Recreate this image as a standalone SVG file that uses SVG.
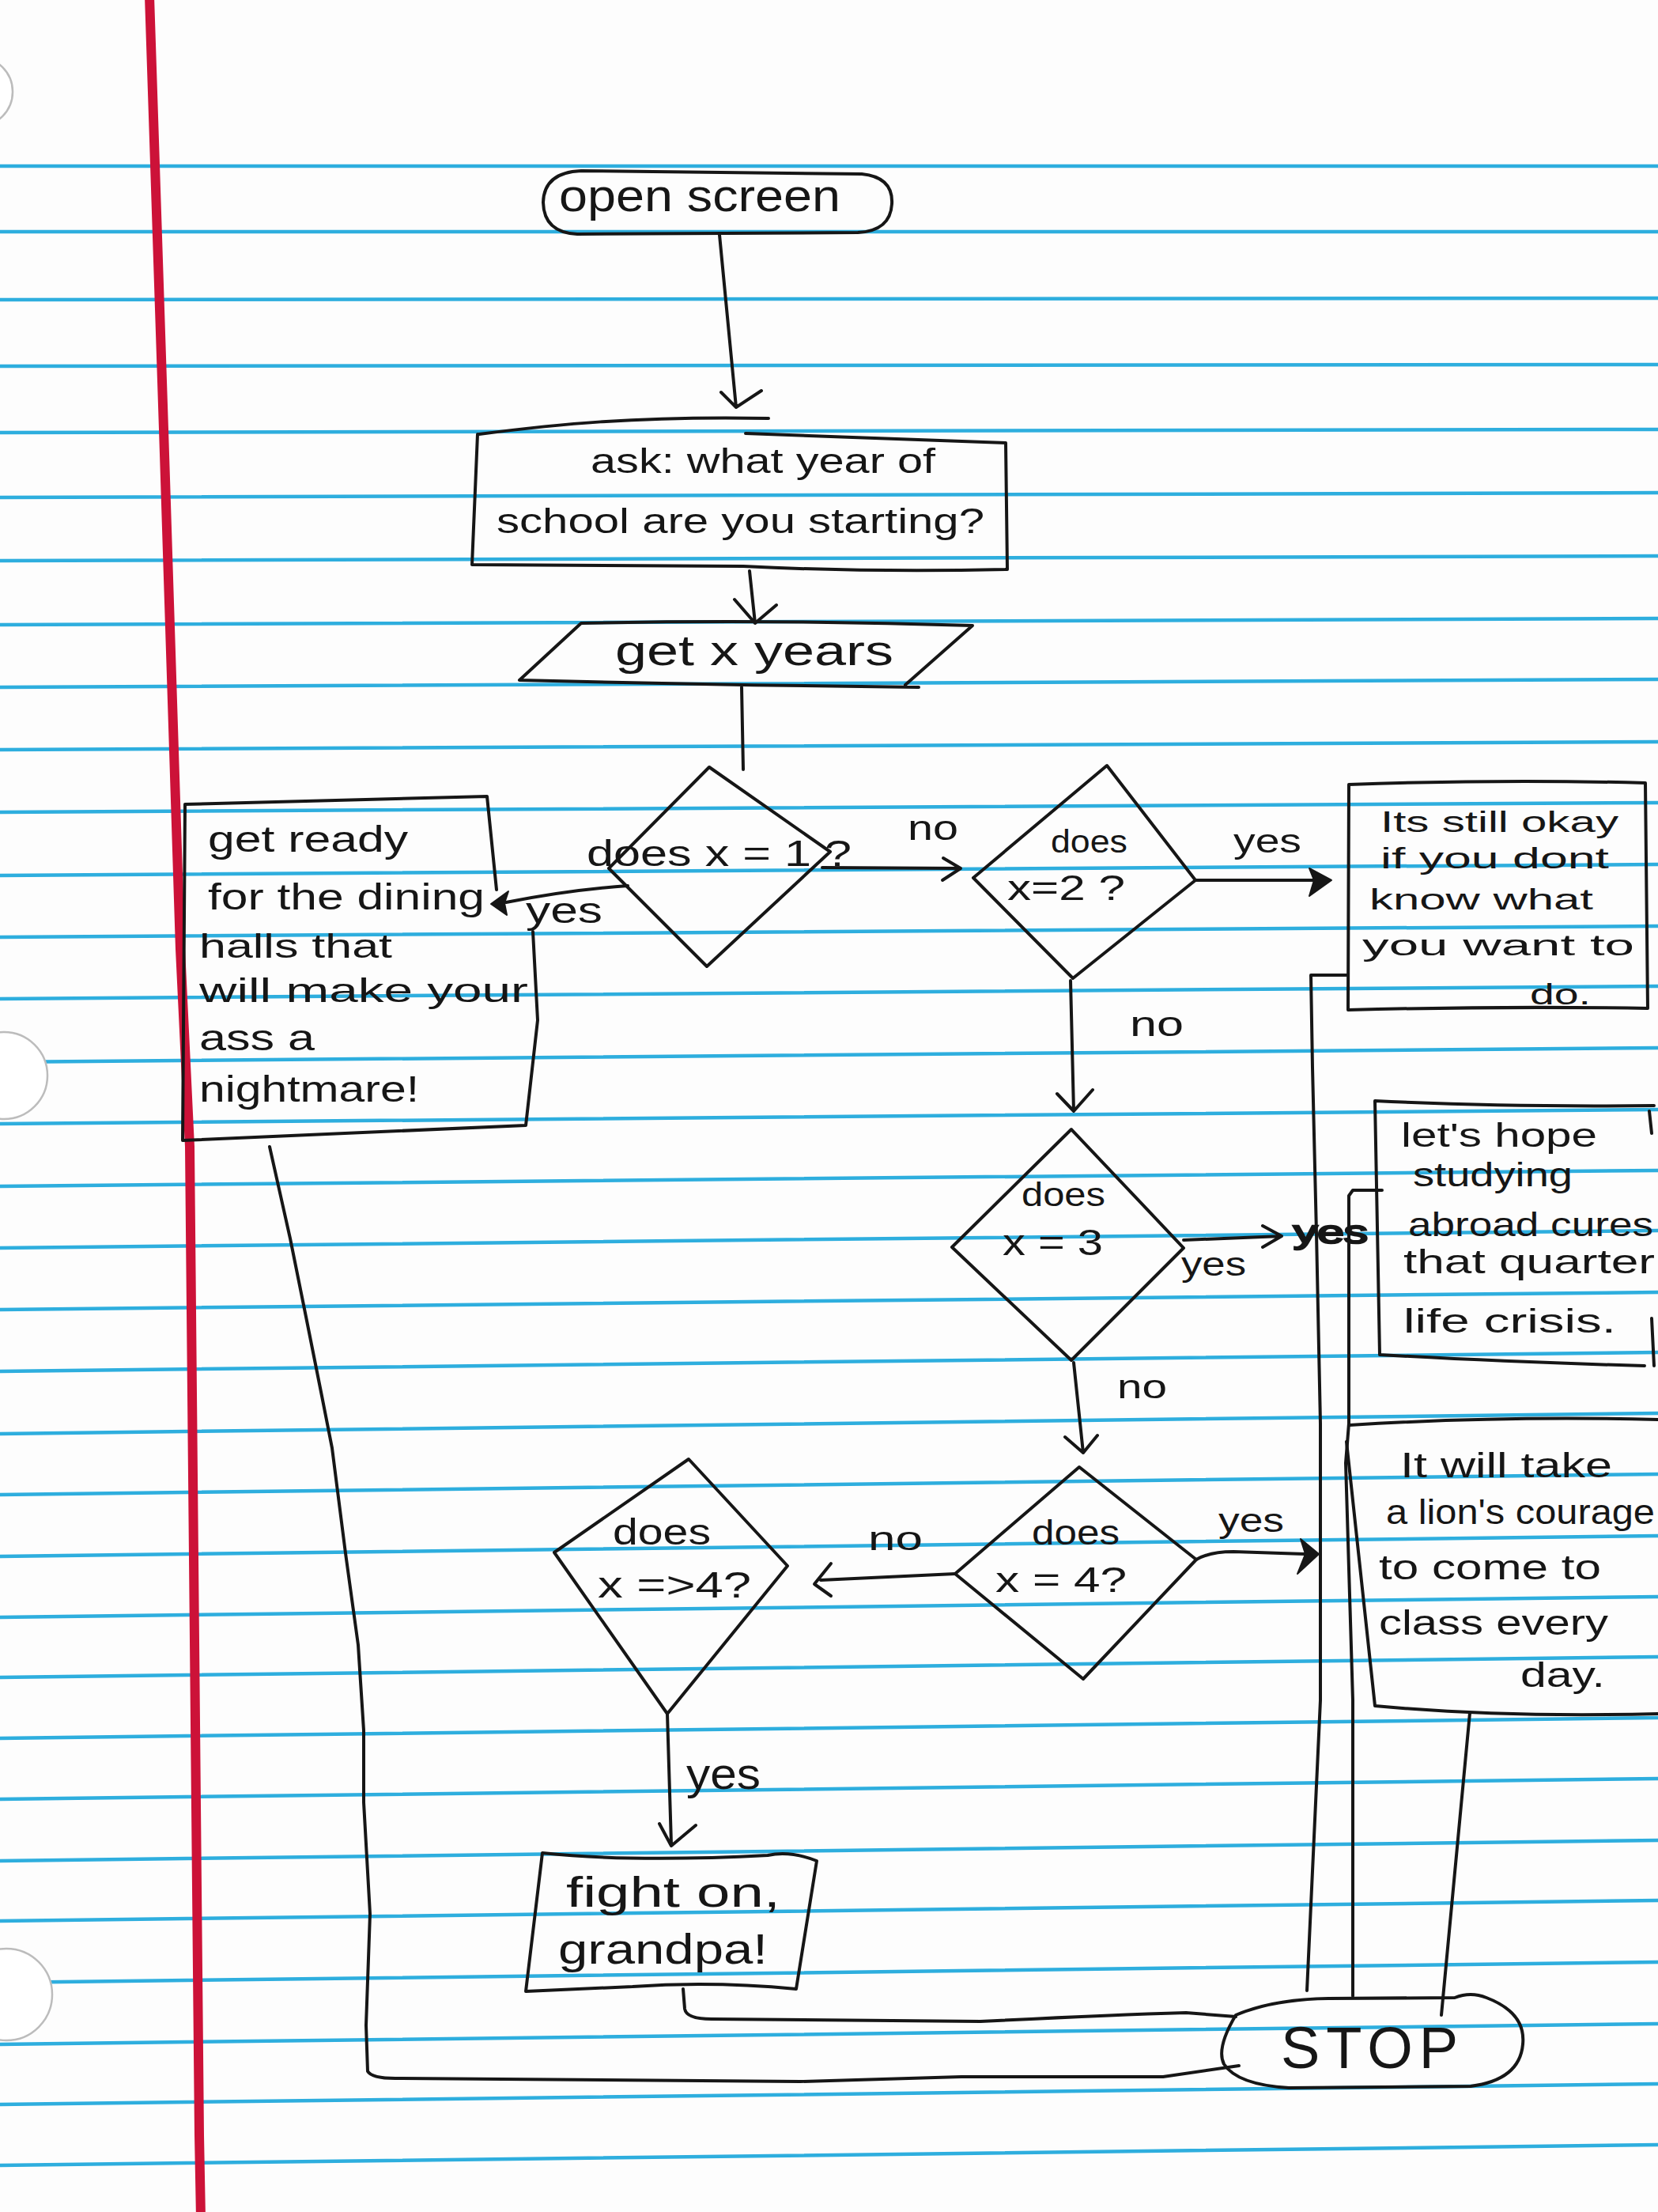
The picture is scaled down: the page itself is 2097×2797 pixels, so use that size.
<svg xmlns="http://www.w3.org/2000/svg" width="2097" height="2797" viewBox="0 0 2097 2797">
<defs>
<style>
.rule{stroke:#2eaede;stroke-width:4.5;fill:none}
.margin{stroke:#cc1238;stroke-width:12;fill:none;stroke-linecap:round;stroke-linejoin:round}
.hole{fill:#ffffff;stroke:#bcbcbc;stroke-width:2.5}
.ink{fill:none;stroke:#161616;stroke-width:4;stroke-linecap:round;stroke-linejoin:round}
.head{fill:#161616;stroke:#161616;stroke-width:2;stroke-linejoin:round}
.t{font-family:"Liberation Sans",Arial,sans-serif;fill:#161616}
</style>
</defs>
<rect width="2097" height="2797" fill="#fdfdfd"/>
<g id="paper">
<path class="rule" d="M0,210 L2097,210 M0,293 L2097,293 M0,379 L2097,377 M0,463 L2097,461 M0,547 L2097,543 M0,629 L2097,623 M0,709 L2097,703 M0,790 L2097,782 M0,869 L2097,859 M0,948 L2097,938 M0,1027 L2097,1015 M0,1107 L2097,1093 M0,1185 L2097,1171 M0,1263 L2097,1247 M0,1343 L2097,1325 M0,1421 L2097,1403 M0,1500 L2097,1480 M0,1578 L2097,1556 M0,1656 L2097,1634 M0,1734 L2097,1710 M0,1813 L2097,1787 M0,1890 L2097,1864 M0,1968 L2097,1942 M0,2045 L2097,2019 M0,2121 L2097,2095 M0,2198 L2097,2172 M0,2275 L2097,2249 M0,2353 L2097,2327 M0,2429 L2097,2403 M0,2507 L2097,2481 M0,2585 L2097,2559 M0,2661 L2097,2635 M0,2738 L2097,2712"/>
<circle class="hole" cx="-28" cy="116" r="44"/>
<circle class="hole" cx="5" cy="1360" r="55"/>
<circle class="hole" cx="8" cy="2522" r="58"/>
<path class="margin" d="M189,-5 L207,543 L228,1200 L240,1450 L252,2700 L254,2805"/>
</g>

<g id="connectors">
<path class="ink" d="M910,297 L931,515 M912,496 L931,515 L963,494"/>
<path class="ink" d="M948,722 L955,788 M929,758 L955,788 L982,765"/>
<path class="ink" d="M938,869 L940,973"/>
<path class="ink" d="M794,1120 Q720,1125 640,1141"/>
<polygon class="head" points="621,1143 643,1127 638,1142 641,1157"/>
<text class="t" x="665" y="1167" font-size="46" textLength="97" lengthAdjust="spacingAndGlyphs">yes</text>
<path class="ink" d="M1040,1097 L1215,1098 M1193,1085 L1215,1098 L1192,1113"/>
<text class="t" x="1148" y="1062" font-size="44" textLength="64" lengthAdjust="spacingAndGlyphs">no</text>
<path class="ink" d="M1512,1113 L1665,1113"/>
<polygon class="head" points="1684,1113 1656,1098 1662,1113 1656,1133"/>
<text class="t" x="1560" y="1078" font-size="42" textLength="86" lengthAdjust="spacingAndGlyphs">yes</text>
<path class="ink" d="M1354,1240 L1358,1405 M1337,1383 L1358,1405 L1382,1378"/>
<text class="t" x="1429" y="1310" font-size="44" textLength="68" lengthAdjust="spacingAndGlyphs">no</text>
<path class="ink" d="M1497,1568 L1621,1563 M1597,1550 L1621,1563 L1597,1577"/>
<text class="t" x="1494" y="1613" font-size="42" textLength="82" lengthAdjust="spacingAndGlyphs">yes</text>
<text class="t" x="1636" y="1572" font-size="40" textLength="94" lengthAdjust="spacingAndGlyphs" stroke="#161616" stroke-width="2.5">yes</text>
<path class="ink" d="M1358,1723 L1370,1837 M1347,1817 L1370,1837 L1388,1815"/>
<text class="t" x="1413" y="1768" font-size="42" textLength="63" lengthAdjust="spacingAndGlyphs">no</text>
<path class="ink" d="M1513,1972 Q1530,1962 1560,1962 L1650,1965"/>
<polygon class="head" points="1668,1965 1645,1946 1651,1965 1641,1990"/>
<text class="t" x="1541" y="1937" font-size="42" textLength="83" lengthAdjust="spacingAndGlyphs">yes</text>
<path class="ink" d="M1208,1990 L1038,1998 M1051,1977 L1030,2003 L1051,2018"/>
<text class="t" x="1098" y="1960" font-size="42" textLength="69" lengthAdjust="spacingAndGlyphs">no</text>
<path class="ink" d="M844,2167 L849,2332 M834,2306 L849,2334 L880,2308"/>
<text class="t" x="868" y="2262" font-size="56" textLength="94" lengthAdjust="spacingAndGlyphs">yes</text>
<path class="ink" d="M864,2515 L866,2540 Q868,2553 900,2553 L1240,2556 Q1400,2548 1500,2545 L1563,2550"/>
<path class="ink" d="M341,1450 L367,1566 L387,1665 L407,1765 L420,1831 L437,1964 L453,2080 L460,2188 L460,2279 L468,2420 L463,2561 L465,2619 Q470,2628 500,2628 L1012,2632 L1216,2626 L1471,2626 L1567,2612"/>
<path class="ink" d="M1703,1233 L1658,1233 L1660,1350 L1665,1560 L1670,1800 L1670,2150 L1653,2517"/>
<path class="ink" d="M1748,1505 L1711,1505 L1706,1512 L1706,1800 L1702,1850 L1711,2150 L1711,2524"/>
<path class="ink" d="M1859,2166 L1823,2548"/>
</g>

<g id="open-screen">
<path class="ink" d="M735,216 L1090,220 Q1130,224 1128,258 Q1126,292 1085,294 L730,296 Q688,294 687,256 Q688,218 735,216 Z"/>
<text class="t" x="707" y="267" font-size="58" textLength="356" lengthAdjust="spacingAndGlyphs">open screen</text>
</g>

<g id="ask-box">
<path class="ink" d="M606,549 C700,537 800,526 972,529 M943,548 L1272,560 L1274,720 Q1100,724 940,716 L597,714 L604,549"/>
<text class="t" x="747" y="598" font-size="44" textLength="436" lengthAdjust="spacingAndGlyphs">ask: what year of</text>
<text class="t" x="628" y="674" font-size="44" textLength="617" lengthAdjust="spacingAndGlyphs">school are you starting?</text>
</g>

<g id="get-years">
<path class="ink" d="M657,860 L735,788 Q980,783 1230,791 L1145,866 M657,860 Q900,866 1162,869"/>
<text class="t" x="778" y="841" font-size="54" textLength="352" lengthAdjust="spacingAndGlyphs">get x years</text>
</g>

<g id="decision-1">
<path class="ink" d="M897,970 L1050,1077 L894,1222 L770,1098 Z"/>
<text class="t" x="742" y="1095" font-size="46" textLength="335" lengthAdjust="spacingAndGlyphs">does x = 1 ?</text>
</g>

<g id="year-1-box">
<path class="ink" d="M628,1125 L616,1007 L234,1017 L231,1442 L665,1423 L680,1290 L674,1178"/>
<text class="t" x="263" y="1077" font-size="46" textLength="253" lengthAdjust="spacingAndGlyphs">get ready</text>
<text class="t" x="263" y="1150" font-size="46" textLength="350" lengthAdjust="spacingAndGlyphs">for the dining</text>
<text class="t" x="252" y="1211" font-size="42" textLength="244" lengthAdjust="spacingAndGlyphs">halls that</text>
<text class="t" x="252" y="1267" font-size="42" textLength="416" lengthAdjust="spacingAndGlyphs">will make your</text>
<text class="t" x="252" y="1328" font-size="46" textLength="146" lengthAdjust="spacingAndGlyphs">ass a</text>
<text class="t" x="252" y="1393" font-size="46" textLength="278" lengthAdjust="spacingAndGlyphs">nightmare!</text>
</g>

<g id="decision-2">
<path class="ink" d="M1400,968 L1512,1113 L1357,1237 L1231,1110 Z"/>
<text class="t" x="1329" y="1078" font-size="40" textLength="97" lengthAdjust="spacingAndGlyphs">does</text>
<text class="t" x="1274" y="1138" font-size="44" textLength="149" lengthAdjust="spacingAndGlyphs">x=2 ?</text>
</g>

<g id="year-2-box">
<path class="ink" d="M1706,992 Q1900,985 2081,990 L2084,1275 Q1900,1272 1705,1277 Z"/>
<text class="t" x="1746" y="1052" font-size="36" textLength="301" lengthAdjust="spacingAndGlyphs">Its still okay</text>
<text class="t" x="1746" y="1098" font-size="36" textLength="289" lengthAdjust="spacingAndGlyphs">if you dont</text>
<text class="t" x="1732" y="1150" font-size="36" textLength="283" lengthAdjust="spacingAndGlyphs">know what</text>
<text class="t" x="1723" y="1208" font-size="36" textLength="344" lengthAdjust="spacingAndGlyphs">you want to</text>
<text class="t" x="1935" y="1270" font-size="36" textLength="77" lengthAdjust="spacingAndGlyphs">do.</text>
</g>

<g id="decision-3">
<path class="ink" d="M1355,1428 L1497,1578 L1355,1720 L1204,1577 Z"/>
<text class="t" x="1292" y="1525" font-size="42" textLength="106" lengthAdjust="spacingAndGlyphs">does</text>
<text class="t" x="1268" y="1587" font-size="46" textLength="127" lengthAdjust="spacingAndGlyphs">x = 3</text>
</g>

<g id="year-3-box">
<path class="ink" d="M1739,1392 Q1900,1400 2092,1398 M2086,1405 L2089,1433 M2089,1667 L2092,1727 M1739,1392 L1745,1713 Q1900,1722 2080,1727"/>
<text class="t" x="1772" y="1450" font-size="42" textLength="248" lengthAdjust="spacingAndGlyphs">let's hope</text>
<text class="t" x="1787" y="1500" font-size="42" textLength="202" lengthAdjust="spacingAndGlyphs">studying</text>
<text class="t" x="1781" y="1563" font-size="42" textLength="310" lengthAdjust="spacingAndGlyphs">abroad cures</text>
<text class="t" x="1775" y="1610" font-size="42" textLength="318" lengthAdjust="spacingAndGlyphs">that quarter</text>
<text class="t" x="1775" y="1685" font-size="42" textLength="269" lengthAdjust="spacingAndGlyphs">life crisis.</text>
</g>

<g id="decision-4">
<path class="ink" d="M1365,1855 L1513,1972 L1370,2123 L1208,1990 Z"/>
<text class="t" x="1305" y="1953" font-size="44" textLength="111" lengthAdjust="spacingAndGlyphs">does</text>
<text class="t" x="1259" y="2013" font-size="44" textLength="166" lengthAdjust="spacingAndGlyphs">x = 4?</text>
</g>

<g id="year-4-box">
<path class="ink" d="M1707,1802 Q1900,1790 2097,1795 M1703,1823 L1739,2157 Q1900,2172 2097,2167"/>
<text class="t" x="1771" y="1868" font-size="44" textLength="268" lengthAdjust="spacingAndGlyphs">It will take</text>
<text class="t" x="1753" y="1927" font-size="44" textLength="340" lengthAdjust="spacingAndGlyphs">a lion's courage</text>
<text class="t" x="1744" y="1997" font-size="44" textLength="281" lengthAdjust="spacingAndGlyphs">to come to</text>
<text class="t" x="1744" y="2067" font-size="44" textLength="290" lengthAdjust="spacingAndGlyphs">class every</text>
<text class="t" x="1923" y="2133" font-size="44" textLength="107" lengthAdjust="spacingAndGlyphs">day.</text>
</g>

<g id="decision-5">
<path class="ink" d="M871,1845 L996,1980 L844,2167 L701,1963 Z"/>
<text class="t" x="775" y="1953" font-size="46" textLength="124" lengthAdjust="spacingAndGlyphs">does</text>
<text class="t" x="756" y="2020" font-size="46" textLength="194" lengthAdjust="spacingAndGlyphs">x =&gt;4?</text>
</g>

<g id="fight-on-box">
<path class="ink" d="M686,2343 Q800,2355 971,2346 Q1000,2340 1033,2353 L1007,2515 Q900,2505 800,2512 L665,2518 Z"/>
<text class="t" x="716" y="2411" font-size="54" textLength="271" lengthAdjust="spacingAndGlyphs">fight on,</text>
<text class="t" x="706" y="2483" font-size="54" textLength="265" lengthAdjust="spacingAndGlyphs">grandpa!</text>
</g>

<g id="stop">
<path class="ink" d="M1563,2548 Q1610,2528 1680,2527 L1840,2526 Q1860,2518 1880,2526 Q1930,2545 1926,2585 Q1922,2630 1860,2638 L1630,2640 Q1565,2636 1548,2610 Q1538,2590 1563,2548 Z"/>
<text class="t" x="1620" y="2615" font-size="74" textLength="224" lengthAdjust="spacing">STOP</text>
</g>
</svg>
